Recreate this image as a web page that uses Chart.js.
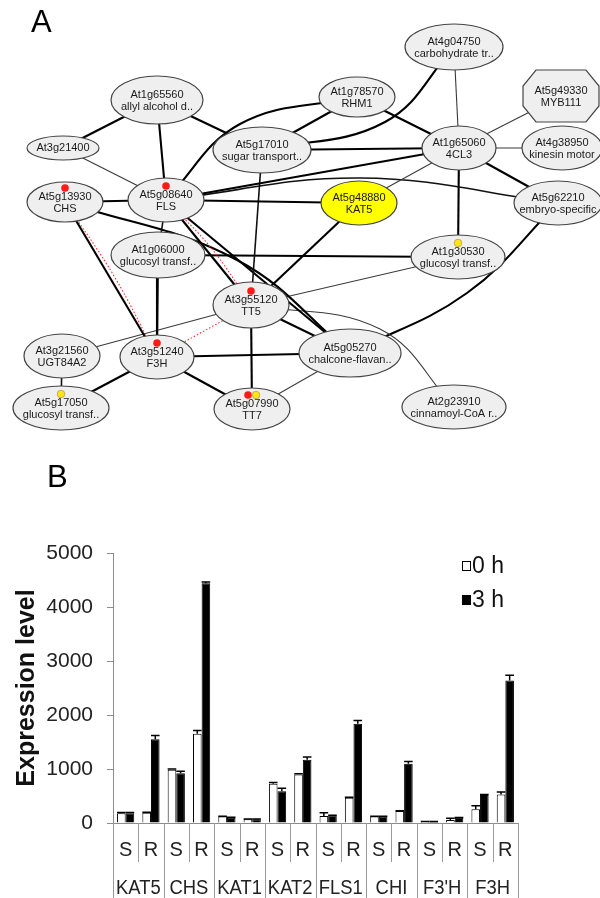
<!DOCTYPE html>
<html>
<head>
<meta charset="utf-8">
<script src="https://cdn.jsdelivr.net/npm/chart.js@4.4.1/dist/chart.umd.min.js"></script>
<style>
  html, body { margin: 0; padding: 0; background: #fff; }
  #wrap { position: relative; width: 600px; height: 898px; overflow: hidden;
          font-family: "Liberation Sans", Arial, sans-serif; }
  .panel { position: absolute; left: 0; width: 600px; }
  .tag { position: absolute; font-size: 31px; line-height: 1; color: #000; }
</style>
</head>
<body>
<div id="wrap">
  <div class="panel" style="top:0;height:440px"><canvas id="net"></canvas></div>
  <div class="panel" style="top:440px;height:458px"><canvas id="bars"></canvas></div>
  <div class="tag" style="left:31px;top:6px">A</div>
  <div class="tag" style="left:47px;top:461px">B</div>
</div>
<script>
const FONT = '"Liberation Sans", Arial, sans-serif';
Chart.defaults.font.family = FONT;

/* ---------- Panel A: co-expression network ---------- */
const geneIds = ['At1g65560','At3g21400','At5g13930','At5g08640','At5g17010','At1g78570',
  'At4g04750','At5g49330','At1g65060','At4g38950','At5g62210','At5g48880','At1g06000',
  'At1g30530','At3g55120','At3g21560','At3g51240','At5g05270','At5g17050','At5g07990','At2g23910'];
const geneNotes = ['allyl alcohol d..','','CHS','FLS','sugar transport..','RHM1',
  'carbohydrate tr..','MYB111','4CL3','kinesin motor','embryo-specific','KAT5','glucosyl transf..',
  'glucosyl transf..','TT5','UGT84A2','F3H','chalcone-flavan..','glucosyl transf..','TT7','cinnamoyl-CoA r..'];
const queryGene = 'At5g48880';
const octagonGene = 'At5g49330';

// layout coordinates of the nodes (network space, y grows downward)
const layoutX = [157,63,65,166,262,357,454,561,459,562,558,359,158,458,251,62,157,350,61,252,454];
const layoutY = [100,148,202,200,150,97,47,96,148,148,203,203,255,257,305,356,357,353,408,409,407];
const layoutRx = [46,36,38,38,49,38,49,38,37,40,44,38,47,47,38,38,37,51,48,38,52];
const layoutRy = [24,12,20,22,23,20,23,26,22,22,22,22,23,22,23,22,22,24,22,21,22];

// interactions: [from, to]
const links = [[0,1],[0,3],[0,4],[1,3],[2,3],[3,5],[4,5],[4,6],[4,8],[5,8],[6,8],[8,7],[8,9],
  [8,10],[8,11],[3,8],[3,10],[3,11],[4,14],[11,14],[3,12],[3,14],[3,14],[3,17],[2,17],[12,13],
  [12,16],[2,16],[2,16],[16,14],[15,14],[15,18],[16,18],[16,19],[16,17],[14,19],[14,17],[14,13],
  [14,20],[17,10],[17,19],[13,8]];
// strong / weak / medium / pathway (dotted)
const linkKind = ['S','S','S','W','S','S','S','S','S','S','W','W','W','S','W','S','M','S','M','S',
  'M','S','P','S','S','S','S','S','P','P','W','M','S','S','S','S','S','W','W','S','W','S'];
// optional bend point for curved links
const linkBend = {5:[240,124],7:[385,122],16:[360,178],22:[212,249],24:[237,260],28:[114,276],
  38:[380,329],39:[467,293]};

// annotation dots: [node, colour, dx]
const nodeMarks = [[2,'#ff1a1a',0],[3,'#ff1a1a',0],[14,'#ff1a1a',0],[16,'#ff1a1a',0],
  [19,'#ff1a1a',-4],[19,'#ffe41a',4],[18,'#ffe41a',0],[13,'#ffe41a',0]];

const linkStyle = {
  S: {color:'#000', width:2.1, dash:[]},
  M: {color:'#111', width:1.6, dash:[]},
  W: {color:'#3a3a3a', width:1.1, dash:[]},
  P: {color:'#ff3030', width:1.1, dash:[1.5,2]}
};

const linkDatasets = links.map(([a,b], i) => {
  const st = linkStyle[linkKind[i]];
  const pts = [{x: layoutX[a], y: layoutY[a]}];
  if (linkBend[i]) pts.push({x: linkBend[i][0], y: linkBend[i][1]});
  pts.push({x: layoutX[b], y: layoutY[b]});
  return {
    data: pts, showLine: true, pointRadius: 0, borderColor: st.color,
    borderWidth: st.width, borderDash: st.dash, tension: linkBend[i] ? 0.4 : 0,
    fill: false, clip: false
  };
});

const nodePlugin = {
  id: 'nodes',
  afterDatasetsDraw(chart) {
    const {ctx, scales: {x, y}} = chart;
    ctx.save();
    geneIds.forEach((id, i) => {
      const cx = x.getPixelForValue(layoutX[i]);
      const cy = y.getPixelForValue(layoutY[i]);
      const rx = x.getPixelForValue(layoutX[i] + layoutRx[i]) - cx;
      const ry = y.getPixelForValue(layoutY[i] + layoutRy[i]) - cy;
      ctx.beginPath();
      if (id === octagonGene) {
        const cxx = 13, cyy = 16;
        ctx.moveTo(cx - rx + cxx, cy - ry);
        ctx.lineTo(cx + rx - cxx, cy - ry);
        ctx.lineTo(cx + rx, cy - ry + cyy);
        ctx.lineTo(cx + rx, cy + ry - cyy);
        ctx.lineTo(cx + rx - cxx, cy + ry);
        ctx.lineTo(cx - rx + cxx, cy + ry);
        ctx.lineTo(cx - rx, cy + ry - cyy);
        ctx.lineTo(cx - rx, cy - ry + cyy);
        ctx.closePath();
      } else {
        ctx.ellipse(cx, cy, rx, ry, 0, 0, Math.PI * 2);
      }
      ctx.fillStyle = id === queryGene ? '#ffff00' : '#efefef';
      ctx.fill();
      ctx.lineWidth = 1.2;
      ctx.strokeStyle = '#444';
      ctx.stroke();

      ctx.fillStyle = '#1a1a1a';
      ctx.font = '11px ' + FONT;
      ctx.textAlign = 'center';
      ctx.textBaseline = 'middle';
      if (geneNotes[i]) {
        ctx.fillText(id, cx, cy - 5.5);
        ctx.fillText(geneNotes[i], cx, cy + 7);
      } else {
        ctx.fillText(id, cx, cy);
      }
    });
    nodeMarks.forEach(([n, col, dx]) => {
      const cx = x.getPixelForValue(layoutX[n]) + dx;
      const cy = y.getPixelForValue(layoutY[n]) - 14;
      ctx.beginPath();
      ctx.arc(cx, cy, 3.8, 0, Math.PI * 2);
      ctx.fillStyle = col;
      ctx.fill();
      if (col !== '#ff1a1a') {
        ctx.lineWidth = 0.6;
        ctx.strokeStyle = '#9a8a30';
        ctx.stroke();
      }
    });
    ctx.restore();
  }
};

new Chart(document.getElementById('net'), {
  type: 'scatter',
  data: {datasets: linkDatasets},
  options: {
    responsive: true, maintainAspectRatio: false, animation: false, events: [],
    layout: {padding: 0},
    plugins: {legend: {display: false}, tooltip: {enabled: false}},
    scales: {
      x: {type: 'linear', min: 0, max: 600, display: false},
      y: {type: 'linear', min: 0, max: 440, reverse: true, display: false}
    }
  },
  plugins: [nodePlugin]
});

/* ---------- Panel B: expression levels ---------- */
const genes = ['KAT5','CHS','KAT1','KAT2','FLS1','CHI',"F3'H",'F3H'];
const lines = ['S','R'];
const sampleLabels = genes.flatMap(g => lines.map(l => g + ' ' + l));
const seriesNames = ['0 h','3 h'];
const expr0h = [180,190, 985,1655, 120,68, 728,900, 130,469, 120,222, 25,55, 253,530];
const expr3h = [180,1550, 920,4440, 95,68, 590,1170, 140,1840, 120,1095, 25,95, 520,2640];
const err0h  = [15,10, 15,60, 5,5, 20,10, 60,10, 5,5, 3,35, 65,45];
const err3h  = [15,70, 40,25, 10,5, 55,50, 5,60, 5,45, 3,5, 10,95];
const yTicks = [0,1000,2000,3000,4000,5000];

const errorBarPlugin = {
  id: 'errorBars',
  afterDatasetsDraw(chart) {
    const {ctx} = chart;
    const ys = chart.scales.y;
    ctx.save();
    ctx.strokeStyle = '#000';
    ctx.lineWidth = 1.5;
    chart.data.datasets.forEach((ds, d) => {
      const meta = chart.getDatasetMeta(d);
      meta.data.forEach((bar, i) => {
        const v = ds.data[i], e = ds.errors[i];
        const y0 = ys.getPixelForValue(v), y1 = ys.getPixelForValue(v + e);
        const w = bar.width;
        ctx.beginPath();
        ctx.moveTo(bar.x, y0);
        ctx.lineTo(bar.x, y1);
        ctx.moveTo(bar.x - w / 2, y1);
        ctx.lineTo(bar.x + w / 2, y1);
        ctx.stroke();
      });
    });
    ctx.restore();
  }
};

const tablePlugin = {
  id: 'sampleTable',
  afterDraw(chart) {
    const {ctx} = chart;
    const xs = chart.scales.x;
    const top = chart.chartArea.bottom;
    const bottom = chart.height;
    const n = sampleLabels.length;
    const step = xs.getPixelForValue(1) - xs.getPixelForValue(0);
    ctx.save();
    ctx.strokeStyle = '#9a9a9a';
    ctx.lineWidth = 1;
    for (let i = 0; i <= n; i++) {
      const px = Math.round(xs.getPixelForValue(0) - step / 2 + i * step) + 0.5;
      ctx.beginPath();
      ctx.moveTo(px, top);
      ctx.lineTo(px, i % 2 === 0 ? bottom : top + 39);
      ctx.stroke();
    }
    ctx.fillStyle = '#222';
    ctx.textAlign = 'center';
    ctx.textBaseline = 'middle';
    ctx.font = '20px ' + FONT;
    for (let i = 0; i < n; i++) {
      ctx.fillText(lines[i % 2], xs.getPixelForValue(i), top + 27);
    }
    genes.forEach((g, k) => {
      const cx = (xs.getPixelForValue(2 * k) + xs.getPixelForValue(2 * k + 1)) / 2;
      ctx.save();
      ctx.translate(cx, top + 65);
      ctx.scale(0.92, 1);
      ctx.fillText(g, 0, 0);
      ctx.restore();
    });
    ctx.restore();
  }
};

const legendPlugin = {
  id: 'seriesKey',
  afterDraw(chart) {
    const {ctx, chartArea} = chart;
    ctx.save();
    ctx.font = '23px ' + FONT;
    ctx.textBaseline = 'middle';
    ctx.textAlign = 'left';
    chart.data.datasets.forEach((ds, d) => {
      const bx = chartArea.right - 56;
      const cy = chartArea.top + 13 + d * 34;
      ctx.fillStyle = ds.backgroundColor;
      ctx.fillRect(bx, cy - 5, 9, 10);
      ctx.strokeStyle = '#000';
      ctx.lineWidth = 1;
      ctx.strokeRect(bx + 0.5, cy - 4.5, 8, 9);
      ctx.fillStyle = '#111';
      ctx.fillText(ds.label, bx + 10, cy + 1);
    });
    ctx.restore();
  }
};

new Chart(document.getElementById('bars'), {
  type: 'bar',
  data: {
    labels: sampleLabels,
    datasets: [
      {label: seriesNames[0], data: expr0h, errors: err0h, backgroundColor: '#fff',
       borderColor: '#000', borderWidth: 1},
      {label: seriesNames[1], data: expr3h, errors: err3h, backgroundColor: '#000',
       borderColor: '#000', borderWidth: 1}
    ]
  },
  options: {
    responsive: true, maintainAspectRatio: false, animation: false, events: [],
    layout: {padding: {top: 113, right: 82, bottom: 0, left: 0}},
    datasets: {bar: {categoryPercentage: 0.68, barPercentage: 1.0}},
    plugins: {legend: {display: false}, tooltip: {enabled: false}},
    scales: {
      x: {
        ticks: {display: false},
        grid: {display: false},
        border: {display: true, color: '#8c8c8c', width: 1},
        afterFit(s) { s.height = 75; }
      },
      y: {
        min: yTicks[0], max: yTicks[yTicks.length - 1],
        afterBuildTicks(s) { s.ticks = yTicks.map(v => ({value: v})); },
        ticks: {color: '#222', padding: 14, font: {size: 21, family: FONT},
                callback: v => String(v)},
        grid: {drawOnChartArea: false, drawTicks: true, tickLength: 6, color: '#8c8c8c'},
        border: {display: true, color: '#8c8c8c', width: 1},
        title: {display: true, text: 'Expression level', color: '#111',
                font: {size: 25, weight: 'bold', family: FONT}, padding: {top: 12, bottom: 0}},
        afterFit(s) { s.width = 113; }
      }
    }
  },
  plugins: [errorBarPlugin, tablePlugin, legendPlugin]
});
</script>
</body>
</html>
